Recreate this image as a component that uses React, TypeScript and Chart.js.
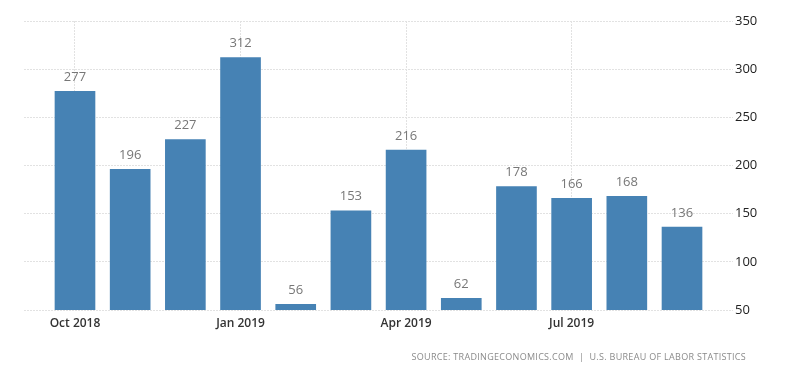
import React, { useEffect, useRef } from "react";
import { Chart, registerables } from "chart.js";
Chart.register(...registerables);

const months = ["Oct 2018", "Nov 2018", "Dec 2018", "Jan 2019", "Feb 2019", "Mar 2019", "Apr 2019", "May 2019", "Jun 2019", "Jul 2019", "Aug 2019", "Sep 2019"];
const values = [277, 196, 227, 312, 56, 153, 216, 62, 178, 166, 168, 136];
const labeledTicks = [0, 3, 6, 9];
const yTicks = [50, 100, 150, 200, 250, 300, 350];
const sourceText = "SOURCE: TRADINGECONOMICS.COM  |  U.S. BUREAU OF LABOR STATISTICS";

const labelPlugin = {
  id: "valueLabels",
  afterDatasetsDraw(chart: any) {
    const ctx = chart.ctx;
    const meta = chart.getDatasetMeta(0);
    ctx.save();
    ctx.font = "13px 'Open Sans'";
    ctx.fillStyle = "#777";
    ctx.textAlign = "center";
    ctx.textBaseline = "middle";
    meta.data.forEach((bar: any, i: number) => {
      ctx.fillText(String(values[i]), bar.x, bar.y - 14);
    });
    ctx.restore();
  },
  afterDraw(chart: any) {
    const ctx = chart.ctx;
    ctx.save();
    ctx.font = "9px 'Open Sans'";
    (ctx as any).letterSpacing = "0.3px";
    ctx.fillStyle = "#8a8a8a";
    ctx.textAlign = "right";
    ctx.textBaseline = "middle";
    ctx.fillText(sourceText, 746, 357);
    ctx.restore();
  },
};

export default function App() {
  const ref = useRef<HTMLCanvasElement>(null);
  useEffect(() => {
    if (!ref.current) return;
    const chart = new Chart(ref.current, {
      type: "bar",
      data: {
        datasets: [
          {
            data: values.map((v, i) => ({ x: i, y: v })),
            backgroundColor: "#4682b4",
            barThickness: 40,
          },
        ],
      },
      options: {
        animation: false,
        responsive: false,
        layout: { padding: { left: 24, top: 21, right: 0, bottom: 0 } },
        plugins: { legend: { display: false }, tooltip: { enabled: false } },
        scales: {
          x: {
            type: "linear",
            min: -0.924,
            max: 11.924,
            offset: false,
            afterBuildTicks: (s: any) => {
              s.ticks = labeledTicks.map((v) => ({ value: v }));
            },
            afterFit: (s: any) => {
              s.height = 63;
            },
            ticks: {
              autoSkip: false,
              maxRotation: 0,
              padding: 6,
              color: "#333",
              font: { family: "'Open Sans'", size: 12, weight: "600" },
              callback: (v: any) => months[v] ?? "",
            },
            grid: { color: "#e2e2e2", drawTicks: false, offset: false },
            border: { display: false, dash: [2, 1] },
          },
          y: {
            position: "right",
            min: 50,
            max: 350,
            afterBuildTicks: (s: any) => {
              s.ticks = yTicks.map((v) => ({ value: v }));
            },
            afterFit: (s: any) => {
              s.width = 67;
            },
            ticks: {
              padding: 2,
              color: "#222",
              font: { family: "'Open Sans'", size: 13 },
            },
            grid: { color: "#e2e2e2", drawTicks: false },
            border: { display: false, dash: [2, 1] },
          },
        },
      },
      plugins: [labelPlugin],
    } as any);
    return () => chart.destroy();
  }, []);
  return (
    <div style={{ position: "absolute", left: 0, top: 0, width: 800, height: 373, background: "#fff" }}>
      <canvas ref={ref} width={800} height={373} />
    </div>
  );
}
